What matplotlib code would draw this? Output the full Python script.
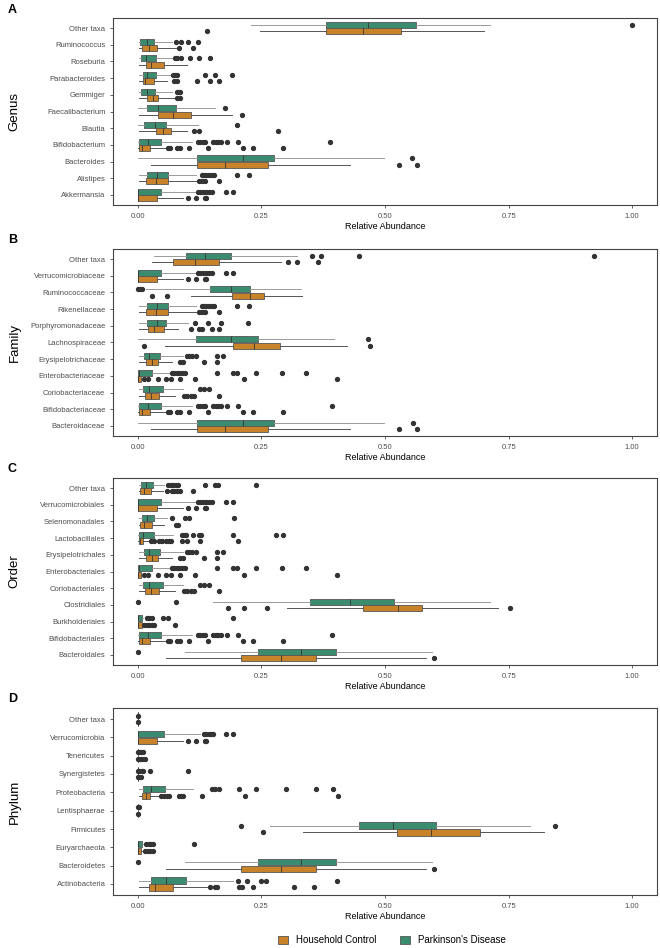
import matplotlib
matplotlib.use("Agg")
import matplotlib.pyplot as plt
from matplotlib.patches import Patch

plt.rcParams['font.family'] = ['Liberation Sans', 'DejaVu Sans']

# ---- data (top row first); each box = [whislo, q1, median, q3, whishi] ----
genus = ["Other taxa", "Ruminococcus", "Roseburia", "Parabacteroides", "Gemmiger",
         "Faecalibacterium", "Blautia", "Bifidobacterium", "Bacteroides", "Alistipes",
         "Akkermansia"]
genus_pd = [[0.230, 0.380, 0.466, 0.562, 0.713], [0.002, 0.005, 0.018, 0.033, 0.069],
            [0.002, 0.006, 0.016, 0.037, 0.072], [0.002, 0.010, 0.019, 0.036, 0.069],
            [0.002, 0.007, 0.018, 0.034, 0.069], [0.001, 0.018, 0.040, 0.077, 0.156],
            [0.001, 0.013, 0.035, 0.057, 0.121], [0.001, 0.003, 0.021, 0.047, 0.109],
            [0.001, 0.119, 0.213, 0.275, 0.498], [0.002, 0.019, 0.038, 0.061, 0.118],
            [0.0, 0.0, 0.0, 0.048, 0.116]]
genus_pd_out = [[0.999], [0.077, 0.088, 0.102, 0.121],
                [0.075, 0.079, 0.088, 0.106, 0.123, 0.146],
                [0.072, 0.075, 0.080, 0.136, 0.157, 0.191], [0.079, 0.083, 0.086],
                [0.176], [0.200],
                [0.121, 0.126, 0.131, 0.136, 0.153, 0.158, 0.163, 0.168, 0.180, 0.203, 0.389],
                [0.555], [0.129, 0.134, 0.139, 0.144, 0.150, 0.154, 0.200, 0.224],
                [0.121, 0.126, 0.131, 0.138, 0.145, 0.151, 0.178, 0.193]]
genus_hc = [[0.247, 0.380, 0.456, 0.533, 0.700], [0.002, 0.008, 0.023, 0.038, 0.079],
            [0.002, 0.016, 0.027, 0.053, 0.099], [0.002, 0.011, 0.015, 0.032, 0.059],
            [0.002, 0.019, 0.030, 0.042, 0.075], [0.003, 0.040, 0.072, 0.108, 0.190],
            [0.002, 0.036, 0.051, 0.067, 0.100], [0.001, 0.002, 0.008, 0.024, 0.055],
            [0.027, 0.119, 0.176, 0.264, 0.430], [0.002, 0.017, 0.036, 0.061, 0.119],
            [0.0, 0.0, 0.0, 0.038, 0.091]]
genus_hc_out = [[0.141], [0.084, 0.112], [], [0.073, 0.079, 0.119, 0.146, 0.165],
                [0.080, 0.086], [0.210], [0.114, 0.124, 0.283],
                [0.061, 0.066, 0.079, 0.086, 0.104, 0.143, 0.212, 0.234, 0.293],
                [0.529, 0.564], [0.124, 0.129, 0.136, 0.164], [0.102, 0.118, 0.136, 0.139]]

family = ["Other taxa", "Verrucomicrobiaceae", "Ruminococcaceae", "Rikenellaceae",
          "Porphyromonadaceae", "Lachnospiraceae", "Erysipelotrichaceae",
          "Enterobacteriaceae", "Coriobacteriaceae", "Bifidobacteriaceae", "Bacteroidaceae"]
family_pd = [[0.033, 0.098, 0.137, 0.189, 0.323], [0.0, 0.0, 0.0, 0.048, 0.116],
             [0.016, 0.147, 0.188, 0.228, 0.330], [0.002, 0.019, 0.038, 0.061, 0.118],
             [0.002, 0.018, 0.038, 0.057, 0.102], [0.001, 0.117, 0.189, 0.244, 0.397],
             [0.002, 0.013, 0.023, 0.046, 0.091], [0.0, 0.0, 0.003, 0.028, 0.065],
             [0.002, 0.011, 0.023, 0.051, 0.091], [0.001, 0.003, 0.021, 0.047, 0.109],
             [0.001, 0.119, 0.213, 0.275, 0.498]]
family_pd_out = [[0.352, 0.370, 0.447, 0.923],
                 [0.121, 0.126, 0.131, 0.138, 0.145, 0.151, 0.178, 0.193],
                 [0.0, 0.004, 0.009],
                 [0.129, 0.134, 0.139, 0.144, 0.150, 0.154, 0.200, 0.224],
                 [0.116, 0.143, 0.168, 0.222], [0.465],
                 [0.099, 0.104, 0.109, 0.118, 0.161, 0.172],
                 [0.069, 0.073, 0.079, 0.084, 0.089, 0.096, 0.161, 0.193, 0.201, 0.239, 0.291, 0.341],
                 [0.125, 0.134, 0.145],
                 [0.121, 0.126, 0.131, 0.136, 0.153, 0.158, 0.163, 0.168, 0.180, 0.203, 0.392],
                 [0.556]]
family_hc = [[0.028, 0.072, 0.116, 0.164, 0.290], [0.0, 0.0, 0.0, 0.038, 0.091],
             [0.107, 0.190, 0.228, 0.256, 0.333], [0.002, 0.017, 0.036, 0.061, 0.119],
             [0.002, 0.020, 0.033, 0.053, 0.082], [0.055, 0.192, 0.236, 0.288, 0.424],
             [0.003, 0.016, 0.028, 0.042, 0.069], [0.0, 0.0, 0.001, 0.006, 0.006],
             [0.002, 0.014, 0.027, 0.043, 0.075], [0.001, 0.002, 0.008, 0.024, 0.055],
             [0.027, 0.119, 0.176, 0.264, 0.430]]
family_hc_out = [[0.303, 0.323, 0.365], [0.102, 0.118, 0.136, 0.139], [0.028, 0.059],
                 [0.124, 0.129, 0.136, 0.164], [0.107, 0.123, 0.129, 0.151, 0.165],
                 [0.013, 0.469], [0.086, 0.091, 0.134, 0.161],
                 [0.013, 0.020, 0.042, 0.057, 0.067, 0.086, 0.116, 0.215, 0.402],
                 [0.094, 0.100, 0.107, 0.114, 0.164],
                 [0.061, 0.066, 0.079, 0.086, 0.104, 0.143, 0.212, 0.234, 0.293],
                 [0.529, 0.564]]

order = ["Other taxa", "Verrucomicrobiales", "Selenomonadales", "Lactobacillales",
         "Erysipelotrichales", "Enterobacteriales", "Coriobacteriales", "Clostridiales",
         "Burkholderiales", "Bifidobacteriales", "Bacteroidales"]
order_pd = [[0.002, 0.007, 0.016, 0.030, 0.053], [0.0, 0.0, 0.0, 0.048, 0.116],
            [0.002, 0.008, 0.018, 0.032, 0.059], [0.001, 0.003, 0.011, 0.032, 0.071],
            [0.002, 0.013, 0.023, 0.046, 0.091], [0.0, 0.0, 0.003, 0.028, 0.065],
            [0.002, 0.011, 0.023, 0.051, 0.091], [0.153, 0.348, 0.430, 0.519, 0.712],
            [0.0, 0.0, 0.0, 0.008, 0.010], [0.001, 0.003, 0.021, 0.047, 0.109],
            [0.096, 0.244, 0.331, 0.400, 0.595]]
order_pd_out = [[0.062, 0.067, 0.072, 0.077, 0.081, 0.137, 0.156, 0.163, 0.239],
                [0.121, 0.126, 0.131, 0.138, 0.145, 0.151, 0.178, 0.193],
                [0.070, 0.096, 0.104, 0.195],
                [0.089, 0.094, 0.098, 0.111, 0.123, 0.127, 0.192, 0.279, 0.294],
                [0.099, 0.104, 0.109, 0.118, 0.161, 0.172],
                [0.069, 0.073, 0.079, 0.084, 0.089, 0.096, 0.161, 0.193, 0.201, 0.239, 0.291, 0.341],
                [0.125, 0.134, 0.145], [0.0, 0.077],
                [0.018, 0.023, 0.028, 0.051, 0.062, 0.193],
                [0.121, 0.126, 0.131, 0.136, 0.153, 0.158, 0.163, 0.168, 0.180, 0.203, 0.392],
                [0.0]]
order_hc = [[0.002, 0.005, 0.013, 0.026, 0.052], [0.0, 0.0, 0.0, 0.038, 0.091],
            [0.002, 0.005, 0.013, 0.028, 0.054], [0.001, 0.002, 0.005, 0.011, 0.022],
            [0.003, 0.016, 0.028, 0.042, 0.069], [0.0, 0.0, 0.001, 0.006, 0.006],
            [0.002, 0.014, 0.027, 0.043, 0.075], [0.301, 0.456, 0.527, 0.574, 0.729],
            [0.0, 0.0, 0.0, 0.009, 0.010], [0.001, 0.002, 0.008, 0.024, 0.055],
            [0.057, 0.208, 0.289, 0.360, 0.582]]
order_hc_out = [[0.060, 0.069, 0.073, 0.079, 0.086, 0.111],
                [0.102, 0.118, 0.136, 0.139], [0.077, 0.081],
                [0.026, 0.032, 0.044, 0.050, 0.057, 0.063, 0.067, 0.089, 0.100, 0.126, 0.202],
                [0.086, 0.091, 0.134, 0.161],
                [0.013, 0.020, 0.042, 0.057, 0.067, 0.086, 0.116, 0.215, 0.402],
                [0.094, 0.100, 0.107, 0.114, 0.164], [0.182, 0.215, 0.261, 0.752],
                [0.013, 0.018, 0.023, 0.028, 0.033, 0.075],
                [0.061, 0.066, 0.079, 0.086, 0.104, 0.143, 0.212, 0.234, 0.293],
                [0.599]]

phylum = ["Other taxa", "Verrucomicrobia", "Tenericutes", "Synergistetes", "Proteobacteria",
          "Lentisphaerae", "Firmicutes", "Euryarchaeota", "Bacteroidetes", "Actinobacteria"]
phylum_pd = [[0.0, 0.0, 0.0, 0.0, 0.0], [0.0, 0.0, 0.0, 0.054, 0.126],
             [0.0, 0.0, 0.0, 0.0, 0.0], [0.0, 0.0, 0.0, 0.0, 0.0],
             [0.002, 0.011, 0.027, 0.055, 0.112], [0.0, 0.0, 0.0, 0.0, 0.0],
             [0.267, 0.447, 0.517, 0.604, 0.793], [0.0, 0.0, 0.0, 0.008, 0.010],
             [0.096, 0.244, 0.331, 0.400, 0.595], [0.002, 0.027, 0.057, 0.097, 0.193]]
phylum_pd_out = [[0.0], [0.134, 0.139, 0.144, 0.149, 0.153, 0.178, 0.193],
                 [0.001, 0.003, 0.006, 0.010], [0.001, 0.003, 0.008, 0.011, 0.024, 0.102],
                 [0.151, 0.156, 0.165, 0.205, 0.240, 0.300, 0.360, 0.395],
                 [0.0, 0.003], [0.209, 0.844], [0.017, 0.022, 0.026, 0.030, 0.114],
                 [0.0], [0.202, 0.220, 0.250, 0.260, 0.402]]
phylum_hc = [[0.0, 0.0, 0.0, 0.0, 0.0], [0.0, 0.0, 0.0, 0.038, 0.091],
             [0.0, 0.0, 0.0, 0.0, 0.0], [0.0, 0.0, 0.0, 0.0, 0.0],
             [0.002, 0.009, 0.016, 0.024, 0.042], [0.0, 0.0, 0.0, 0.0, 0.0],
             [0.335, 0.525, 0.593, 0.693, 0.821], [0.0, 0.0, 0.0, 0.007, 0.010],
             [0.057, 0.208, 0.289, 0.360, 0.582], [0.002, 0.023, 0.035, 0.071, 0.143]]
phylum_hc_out = [[0.0], [0.102, 0.118, 0.136, 0.139], [0.001, 0.005, 0.009, 0.015],
                 [0.001, 0.003, 0.006],
                 [0.048, 0.053, 0.059, 0.063, 0.084, 0.088, 0.091, 0.129, 0.217, 0.404],
                 [0.0], [0.254], [0.015, 0.020, 0.025, 0.030], [0.599],
                 [0.147, 0.156, 0.161, 0.205, 0.210, 0.234, 0.317, 0.356]]

panels = [("A", "Genus", genus, genus_pd, genus_pd_out, genus_hc, genus_hc_out),
          ("B", "Family", family, family_pd, family_pd_out, family_hc, family_hc_out),
          ("C", "Order", order, order_pd, order_pd_out, order_hc, order_hc_out),
          ("D", "Phylum", phylum, phylum_pd, phylum_pd_out, phylum_hc, phylum_hc_out)]

GREEN = "#3b8c6e"
ORANGE = "#c8832a"
W, H = 660, 948
tops = [18, 249, 478, 708]
letter_y = [10, 240, 469, 699]


def to_stats(boxes, outs):
    stats = []
    for b, o in zip(boxes, outs):
        stats.append(dict(whislo=b[0], q1=b[1], med=b[2], q3=b[3], whishi=b[4], fliers=o))
    return stats


fig = plt.figure(figsize=(W / 100, H / 100), dpi=100)

for k, (letter, rank, cats, pd_b, pd_o, hc_b, hc_o) in enumerate(panels):
    ax = fig.add_axes([113 / W, 1 - (tops[k] + 187) / H, 544 / W, 187 / H])
    n = len(cats)
    ys = [n - i for i in range(n)]
    for boxes, outs, col, off, wcol in [(pd_b, pd_o, GREEN, 0.19, "#9a9a9a"),
                                        (hc_b, hc_o, ORANGE, -0.19, "#555555")]:
        ax.bxp(to_stats(boxes, outs), positions=[y + off for y in ys], widths=0.36,
               orientation="horizontal", patch_artist=True, showcaps=False,
               boxprops=dict(facecolor=col, edgecolor="#555555", linewidth=0.6),
               medianprops=dict(color="#333333", linewidth=0.6),
               whiskerprops=dict(color=wcol, linewidth=0.7),
               flierprops=dict(marker="o", markersize=2.8, markerfacecolor="#333333",
                               markeredgecolor="#333333"))
    ax.set_xlim(-0.05, 1.05)
    ax.set_ylim(0.4, n + 0.6)
    ax.set_yticks(ys)
    ax.set_yticklabels(cats)
    ax.set_xticks([0, 0.25, 0.5, 0.75, 1.0])
    ax.set_xticklabels(["0.00", "0.25", "0.50", "0.75", "1.00"])
    ax.tick_params(labelsize=5.5, labelcolor="#4d4d4d", color="#4d4d4d",
                   length=2.5, width=0.6, pad=3)
    for s in ax.spines.values():
        s.set_color("#444444")
        s.set_linewidth(0.8)
    ax.set_xlabel("Relative Abundance", fontsize=6.5, labelpad=2)
    ax.set_ylabel(rank, fontsize=9.5)
    ax.yaxis.set_label_coords(-0.17, 0.5)
    fig.text(8 / W, 1 - letter_y[k] / H, letter, fontsize=9, fontweight="bold",
             va="center", ha="left")

handles = [Patch(facecolor=ORANGE, edgecolor="#555555", linewidth=0.6, label="Household Control"),
           Patch(facecolor=GREEN, edgecolor="#555555", linewidth=0.6, label="Parkinson's Disease")]
fig.legend(handles=handles, loc="center", bbox_to_anchor=(392 / W, 1 - 940 / H), ncol=2,
           frameon=False, fontsize=7, handlelength=1.0, handleheight=0.9,
           columnspacing=2.5, handletextpad=0.8)

fig.savefig("out.png", dpi=100)
